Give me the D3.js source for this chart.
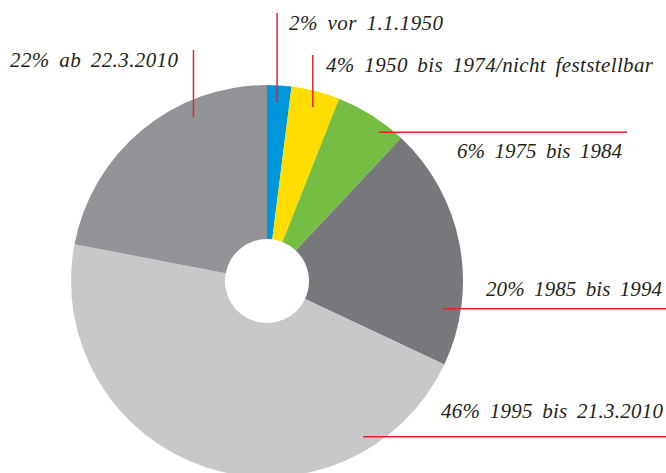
<!DOCTYPE html>
<html>
<head>
<meta charset="utf-8">
<script src="https://cdn.jsdelivr.net/npm/d3@7"></script>
<style>
  html, body { margin: 0; padding: 0; background: #fff; }
  svg { display: block; }
  text.lbl { font-family: "Liberation Serif", Tinos, "Times New Roman"; font-style: italic; font-size: 21px; fill: #231f20; }
</style>
</head>
<body>
<svg id="chart" width="666" height="473"></svg>
<script>
// ---- data ----
const categories = ["vor 1.1.1950", "1950 bis 1974/nicht feststellbar", "1975 bis 1984", "1985 bis 1994", "1995 bis 21.3.2010", "ab 22.3.2010"];
const values = [2, 4, 6, 20, 46, 22];
const colors = ["#0096db", "#ffdd00", "#76bd43", "#77787b", "#c7c8ca", "#929497"];

// ---- layout (label placement) ----
// anchorPct: position along the ring (percent of the whole), anchorR: fraction of outer radius
// dir: "v" vertical leader to y = end, "h" horizontal leader to x = end
const labelLayout = [
  { anchorPct: 0.9,  anchorR: 0.913, dir: "v", end: 13,  tx: 289, ty: 30,  tw: 154 },
  { anchorPct: 4.1,  anchorR: 0.918, dir: "v", end: 55,  tx: 326, ty: 72,  tw: 327 },
  { anchorPct: 10.25,anchorR: 0.949, dir: "h", end: 627, tx: 457, ty: 158, tw: 165 },
  { anchorPct: 27.5, anchorR: 0.908, dir: "h", end: 666, tx: 486, ty: 296, tw: 176 },
  { anchorPct: 41.2, anchorR: 0.934, dir: "h", end: 666, tx: 441, ty: 418, tw: 222 },
  { anchorPct: 93.3, anchorR: 0.918, dir: "v", end: 50,  tx: 10,  ty: 67,  tw: 168 }
];

const cx = 267, cy = 281, R = 196, r0 = 42;
const svg = d3.select("#chart");
const g = svg.append("g").attr("transform", `translate(${cx},${cy})`);

const total = d3.sum(values);
const pie = d3.pie().sort(null).value(d => d)(values);
const arc = d3.arc().innerRadius(r0).outerRadius(R);

g.selectAll("path.slice")
  .data(pie)
  .join("path")
  .attr("class", "slice")
  .attr("d", arc)
  .attr("fill", (d, i) => colors[i]);

// angle scale for anchors
const angle = d3.scaleLinear().domain([0, total]).range([0, 2 * Math.PI]);

labelLayout.forEach((L, i) => {
  const a = angle(L.anchorPct);
  const rr = L.anchorR * R;
  const ax = cx + rr * Math.sin(a);
  const ay = cy - rr * Math.cos(a);
  let x2 = ax, y2 = ay;
  if (L.dir === "v") y2 = L.end; else x2 = L.end;
  svg.append("line")
    .attr("x1", ax).attr("y1", ay)
    .attr("x2", x2).attr("y2", y2)
    .attr("stroke", "#e8202a")
    .attr("stroke-width", 1.5);
  svg.append("text")
    .attr("class", "lbl")
    .attr("x", L.tx).attr("y", L.ty)
    .style("word-spacing", "4px")
    .attr("textLength", L.tw)
    .attr("lengthAdjust", "spacing")
    .text(`${values[i]}% ${categories[i]}`);
});
</script>
</body>
</html>
